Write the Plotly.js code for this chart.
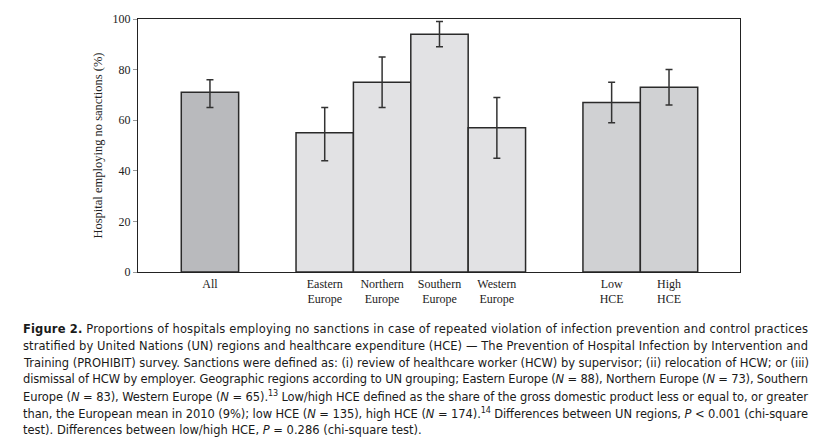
<!DOCTYPE html>
<html>
<head>
<meta charset="utf-8">
<script src="https://cdn.plot.ly/plotly-3.0.1.min.js"></script>
<style>html,body{margin:0;padding:0;background:#fff;}#chart{width:825px;height:446px;}</style>
</head>
<body>
<div id="chart"></div>
<script>
// ---- data ----
const categories = ["All", "Eastern<br>Europe", "Northern<br>Europe", "Southern<br>Europe", "Western<br>Europe", "Low<br>HCE", "High<br>HCE"];
const positions = [0, 2, 3, 4, 5, 7, 8];
const values = [71, 55, 75, 94, 57, 67, 73];
const ciUpper = [76, 65, 85, 99, 69, 75, 80];
const ciLower = [65, 44, 65, 89, 45, 59, 66];
const groups = ["all", "region", "region", "region", "region", "hce", "hce"];
const yTicks = [0, 20, 40, 60, 80, 100];

const captionLines = [
  "<b>Figure 2.</b> Proportions of hospitals employing no sanctions in case of repeated violation of infection prevention and control practices",
  "stratified by United Nations (UN) regions and healthcare expenditure (HCE) \u2014 The Prevention of Hospital Infection by Intervention and",
  "Training (PROHIBIT) survey. Sanctions were defined as: (i) review of healthcare worker (HCW) by supervisor; (ii) relocation of HCW; or (iii)",
  "dismissal of HCW by employer. Geographic regions according to UN grouping; Eastern Europe (<i>N</i> = 88), Northern Europe (<i>N</i> = 73), Southern",
  "Europe (<i>N</i> = 83), Western Europe (<i>N</i> = 65).<sup>13</sup> Low/high HCE defined as the share of the gross domestic product less or equal to, or greater",
  "than, the European mean in 2010 (9%); low HCE (<i>N</i> = 135), high HCE (<i>N</i> = 174).<sup>14</sup> Differences between UN regions, <i>P</i> &lt; 0.001 (chi-square",
  "test). Differences between low/high HCE, <i>P</i> = 0.286 (chi-square test)."
];

// ---- styling ----
const groupColor = {all: "#b9babd", region: "#e2e2e4", hce: "#d0d1d3"};
const W = 825, H = 446;
const M = {l: 138, r: 85, t: 19, b: 174};
const plotW = W - M.l - M.r, plotH = H - M.t - M.b;
const px2x = p => (p - M.l) / plotW;
const py2y = p => (H - M.b - p) / plotH;
const capLeft = 21, capRight = 806;

const trace = {
  type: "bar",
  x: positions,
  y: values,
  width: 1,
  marker: {
    color: groups.map(g => groupColor[g]),
    line: {color: "#2a2a2a", width: 1.5}
  },
  error_y: {
    type: "data",
    symmetric: false,
    array: ciUpper.map((u, i) => u - values[i]),
    arrayminus: values.map((v, i) => v - ciLower[i]),
    color: "#333333",
    thickness: 1.5,
    width: 3.5
  },
  hoverinfo: "skip"
};

const serif = "Liberation Serif, Times New Roman, serif";
const captionFont = {family: "DejaVu Sans, sans-serif", size: 11.5, color: "#1a1a1a"};

const annotations = captionLines.map((t, i) => ({
  text: t,
  xref: "paper", yref: "paper",
  x: px2x(capLeft), y: py2y(329 + i * 16.8),
  xanchor: "left", yanchor: "middle",
  showarrow: false,
  align: "left",
  font: captionFont
}));

const layout = {
  width: W, height: H,
  margin: M,
  paper_bgcolor: "#fff",
  plot_bgcolor: "#fff",
  showlegend: false,
  bargap: 0,
  xaxis: {
    range: [-1.254, 9.237],
    tickvals: positions,
    ticktext: categories,
    showgrid: false, zeroline: false,
    showline: true, mirror: true, linecolor: "#222", linewidth: 1.2,
    ticks: "",
    tickfont: {family: serif, size: 12, color: "#222"},
    fixedrange: true
  },
  yaxis: {
    range: [0, 100],
    tickvals: yTicks,
    showgrid: false, zeroline: false,
    showline: true, mirror: true, linecolor: "#222", linewidth: 1.2,
    ticks: "outside", ticklen: 4, tickcolor: "#999", tickwidth: 1,
    tickfont: {family: serif, size: 12, color: "#222"},
    title: {text: "Hospital employing no sanctions (%)", font: {family: serif, size: 12.5, color: "#222"}, standoff: 7},
    fixedrange: true
  },
  annotations: annotations
};

Plotly.newPlot("chart", [trace], layout, {displayModeBar: false, staticPlot: true}).then(gd => {
  // justify the caption lines (all but the last) to the full text block width
  const texts = gd.querySelectorAll(".annotation-text");
  texts.forEach((el, i) => {
    if (i < captionLines.length - 1) {
      el.setAttribute("textLength", String(capRight - capLeft));
      el.setAttribute("lengthAdjust", "spacing");
    }
  });
});
</script>
</body>
</html>
